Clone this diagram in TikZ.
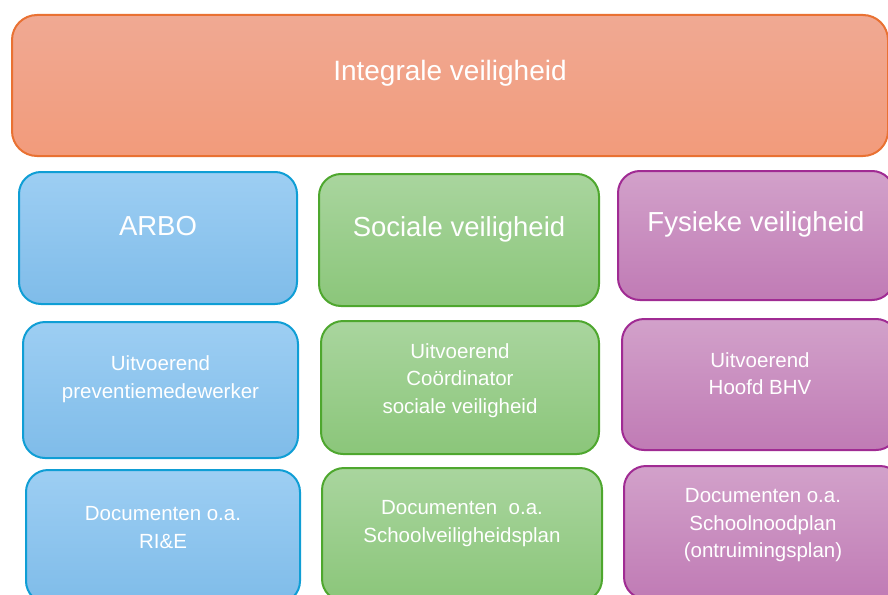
\documentclass[tikz,border=0pt]{standalone}
\usepackage{fontspec}
\setmainfont{Liberation Sans}
\definecolor{orgline}{HTML}{E97132}
\definecolor{orgtop}{HTML}{F0A993}
\definecolor{orgbot}{HTML}{F29B7B}
\definecolor{blueline}{HTML}{0F9ED5}
\definecolor{bluetop}{HTML}{9DCEF3}
\definecolor{bluebot}{HTML}{7FBCE9}
\definecolor{grnline}{HTML}{4EA72E}
\definecolor{grntop}{HTML}{A9D59E}
\definecolor{grnbot}{HTML}{8BC67A}
\definecolor{purline}{HTML}{A02B93}
\definecolor{purtop}{HTML}{D2A1CA}
\definecolor{purbot}{HTML}{C07BB5}
\begin{document}
\begin{tikzpicture}[x=1pt,y=-1pt,
    box/.style={rounded corners=22pt, line width=2pt, anchor=north west, inner sep=0pt},
    obox/.style={box, rounded corners=25pt, draw=orgline, top color=orgtop, bottom color=orgbot},
    bbox/.style={box, draw=blueline, top color=bluetop, bottom color=bluebot},
    gbox/.style={box, draw=grnline, top color=grntop, bottom color=grnbot},
    pbox/.style={box, draw=purline, top color=purtop, bottom color=purbot},
    big/.style={text=white, font=\fontsize{27.5}{33}\selectfont},
    small/.style={text=white, align=center, font=\fontsize{20.5}{27.5}\selectfont}]
  \clip (0,0) rectangle (888,594);
  % top
  \node[obox, minimum width=876pt, minimum height=141pt] (integraal) at (11,14) {};
  \node[big, font=\fontsize{28}{33}\selectfont] (integraal-txt) at ([yshift=12pt]integraal.center) {Integrale veiligheid};
  % row 1
  \node[bbox, minimum width=278pt, minimum height=132pt] (arbo) at (18,171) {};
  \node[gbox, minimum width=280pt, minimum height=132pt] (sociaal) at (318,173) {};
  \node[pbox, minimum width=276pt, minimum height=129pt] (fysiek) at (617,170) {};
  \node[big] (arbo-txt) at ([yshift=12pt]arbo.center) {ARBO};
  \node[big] (sociaal-txt) at ([yshift=11pt]sociaal.center) {Sociale veiligheid};
  \node[big] (fysiek-txt) at ([yshift=11pt]fysiek.center) {Fysieke veiligheid};
  % row 2
  \node[bbox, minimum width=275pt, minimum height=136pt] (arbo-uit) at (22,321) {};
  \node[gbox, minimum width=278pt, minimum height=133pt] (sociaal-uit) at (320,320) {};
  \node[pbox, minimum width=276pt, minimum height=131pt] (fysiek-uit) at (621,318) {};
  \node[small] (arbo-uit-txt) at ([yshift=11pt]arbo-uit.center) {Uitvoerend\\preventiemedewerker};
  \node[small] (sociaal-uit-txt) at ([yshift=7pt]sociaal-uit.center) {Uitvoerend\\Coördinator\\sociale veiligheid};
  \node[small] (fysiek-uit-txt) at ([yshift=11pt]fysiek-uit.center) {Uitvoerend\\Hoofd BHV};
  % row 3
  \node[bbox, minimum width=274pt, minimum height=133pt] (arbo-doc) at (25,469) {};
  \node[gbox, minimum width=280pt, minimum height=133pt] (sociaal-doc) at (321,467) {};
  \node[pbox, minimum width=278pt, minimum height=133pt] (fysiek-doc) at (623,465) {};
  \node[small] (arbo-doc-txt) at ([yshift=9pt]arbo-doc.center) {Documenten o.a.\\RI\&E};
  \node[small] (sociaal-doc-txt) at ([yshift=11pt]sociaal-doc.center) {Documenten\ \ o.a.\\Schoolveiligheidsplan};
  \node[small] (fysiek-doc-txt) at ([yshift=7pt]fysiek-doc.center) {Documenten o.a.\\Schoolnoodplan\\(ontruimingsplan)};
\end{tikzpicture}
\end{document}
